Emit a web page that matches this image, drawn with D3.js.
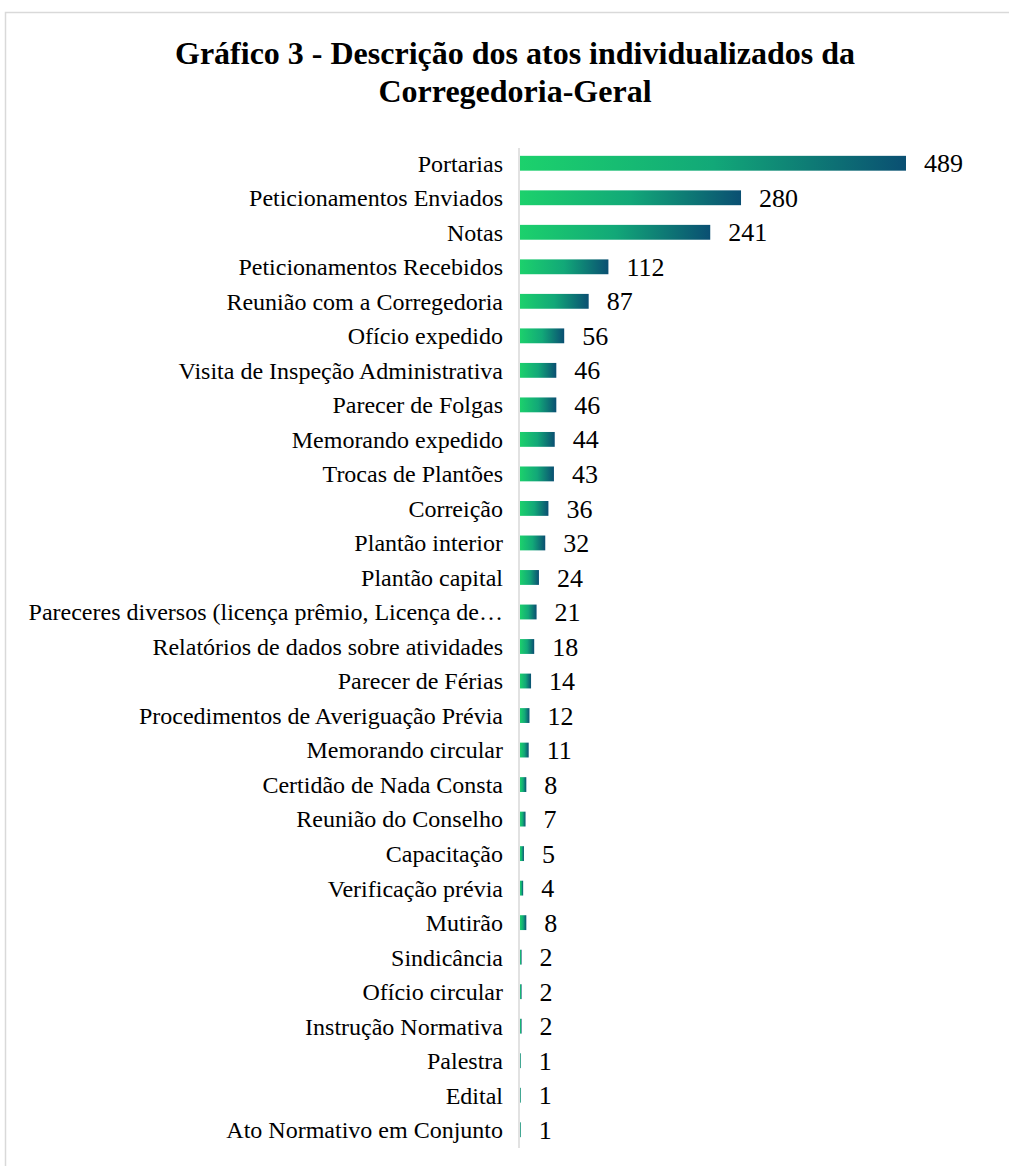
<!DOCTYPE html>
<html><head><meta charset="utf-8">
<script src="https://cdn.jsdelivr.net/npm/d3@7"></script>
<style>body{margin:0;background:#fff}svg{display:block}</style>
</head><body>
<script>
const categories = ["Portarias","Peticionamentos Enviados","Notas","Peticionamentos Recebidos","Reunião com a Corregedoria","Ofício expedido","Visita de Inspeção Administrativa","Parecer de Folgas","Memorando expedido","Trocas de Plantões","Correição","Plantão interior","Plantão capital","Pareceres diversos (licença prêmio, Licença de…","Relatórios de dados sobre atividades","Parecer de Férias","Procedimentos de Averiguação Prévia","Memorando circular","Certidão de Nada Consta","Reunião do Conselho","Capacitação","Verificação prévia","Mutirão","Sindicância","Ofício circular","Instrução Normativa","Palestra","Edital","Ato Normativo em Conjunto"];
const values = [489,280,241,112,87,56,46,46,44,43,36,32,24,21,18,14,12,11,8,7,5,4,8,2,2,2,1,1,1];
const titleLines = ["Gráfico 3 - Descrição dos atos individualizados da","Corregedoria-Geral"];

const W = 1009, H = 1166;
const font = "Liberation Serif";
const svg = d3.select("body").append("svg").attr("width", W).attr("height", H);
const defs = svg.append("defs");
const grad = defs.append("linearGradient").attr("id","g").attr("x1","0").attr("x2","1").attr("y1","0").attr("y2","0");
grad.append("stop").attr("offset","0").attr("stop-color","#1cd16c");
grad.append("stop").attr("offset","0.5").attr("stop-color","#12a878");
grad.append("stop").attr("offset","1").attr("stop-color","#0a4f72");

svg.append("rect").attr("x",5.5).attr("y",12.5).attr("width",W+10).attr("height",H+10)
  .attr("fill","none").attr("stroke","#d9d9d9").attr("stroke-width",1.5);

const title = svg.append("text").attr("text-anchor","middle")
  .attr("font-family",font).attr("font-weight","bold")
  .attr("font-size",32).attr("fill","#000");
titleLines.forEach((t,i)=>title.append("tspan").attr("x",515).attr("y",64+i*38).text(t));

const x0 = 520;
const x = d3.scaleLinear().domain([0,489]).range([x0, 906]);
const y = d3.scaleBand().domain(categories).range([146, 1147]).paddingInner(0.57).paddingOuter(0.285);

svg.append("g").selectAll("rect").data(values).join("rect")
  .attr("x", x0).attr("y",(d,i)=>y(categories[i]))
  .attr("width", d=>x(d)-x0).attr("height", y.bandwidth())
  .attr("fill","url(#g)");

svg.append("line").attr("x1",519).attr("x2",519).attr("y1",148).attr("y2",1148)
  .attr("stroke","#d9d9d9").attr("stroke-width",1.5);

svg.append("g").selectAll("text").data(categories).join("text")
  .attr("x",503).attr("y",d=>y(d)+y.bandwidth()/2).attr("dy","0.35em")
  .attr("text-anchor","end").attr("font-family",font).attr("font-size",24).attr("fill","#000")
  .text(d=>d);

svg.append("g").selectAll("text").data(values).join("text")
  .attr("x",d=>x(d)+18).attr("y",(d,i)=>y(categories[i])+y.bandwidth()/2).attr("dy","0.35em")
  .attr("font-family",font).attr("font-size",26).attr("fill","#000")
  .text(d=>d);
</script>
</body></html>
